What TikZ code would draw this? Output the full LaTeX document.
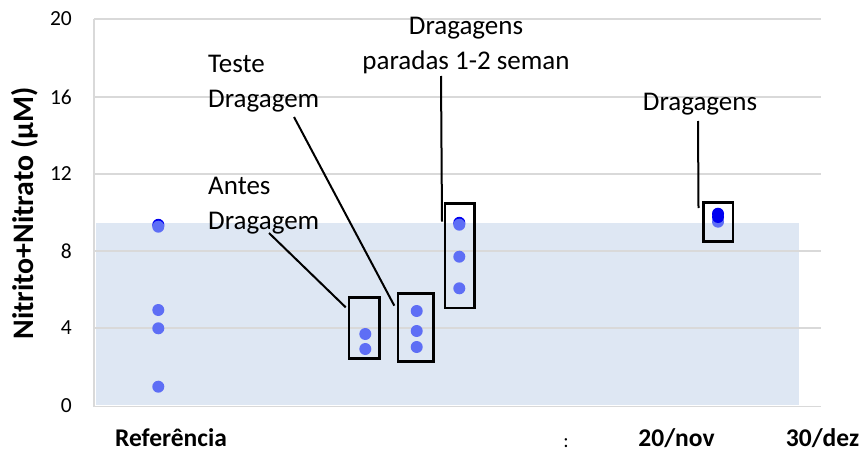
\documentclass[tikz,border=0pt]{standalone}
\usepackage{fontspec}
\setmainfont{Carlito}

\definecolor{corBanda}{RGB}{222,231,243}
\definecolor{corGrade}{RGB}{217,217,217}
\definecolor{corPonto}{RGB}{94,110,245}
\definecolor{corEscuro}{RGB}{0,0,240}

\begin{document}
\begin{tikzpicture}[x=1pt, y=-1pt]

% Set the overall size of the picture
\useasboundingbox (0,0) rectangle (861,452);

% Define styles for grid, dots, boxes and labels
\tikzstyle{grade} = [draw=corGrade, line width=1.2pt]
\tikzstyle{ponto} = [circle, fill=corPonto, minimum size=12pt, inner sep=0pt]
\tikzstyle{escuro} = [circle, fill=corEscuro, minimum size=12pt, inner sep=0pt]
\tikzstyle{caixa} = [rectangle, draw=black, line width=2.7pt, inner sep=0pt]
\tikzstyle{guia} = [draw=black, line width=2pt]

%Define textos: rótulos, escala e eixos
\tikzstyle{rotulo}=[align=left, inner sep=0pt, font=\fontsize{27}{35}\selectfont]
\tikzstyle{escala}=[anchor=east, inner sep=0pt, font=\fontsize{21.5}{26}\selectfont]
\tikzstyle{eixo}=[anchor=base, inner sep=0pt, font=\bfseries\fontsize{25.5}{30}\selectfont]

% Band and grid
\fill[corBanda] (96,223) rectangle (799,405);
\draw[grade] (94,19) -- (821,19);
\draw[grade] (94,97) -- (821,97);
\draw[grade] (94,174) -- (821,174);
\draw[grade] (94,251) -- (821,251);
\draw[grade] (94,328) -- (821,328);
\draw[grade] (94,406.5) -- (821,406.5);
\draw[grade] (94,19) -- (94,406.5);

% Scale and axis titles
\node[escala] (y20) at (72,19) {20};
\node[escala] (y16) at (72,97) {16};
\node[escala] (y12) at (72,174) {12};
\node[escala] (y8) at (72,251) {8};
\node[escala] (y4) at (72,328) {4};
\node[escala] (y0) at (72,406) {0};
\node[eixo, rotate=90, font=\bfseries\fontsize{29.8}{34}\selectfont] (titulo) at (33,213.5) {Nitrito+Nitrato (µM)};
\node[eixo] (referencia) at (171,446) {Referência};
\node[inner sep=0pt, font=\fontsize{20}{24}\selectfont] (marca) at (566,443) {:};
\node[eixo] (novembro) at (676.5,446) {20/nov};
\node[eixo] (dezembro) at (822.5,446) {30/dez};

% Boxes
\node[caixa, minimum width=30.5pt, minimum height=61.2pt] (caixa1) at (364.3,328) {};
\node[caixa, minimum width=35.2pt, minimum height=67.9pt] (caixa2) at (415.7,327.3) {};
\node[caixa, minimum width=29.2pt, minimum height=104.5pt] (caixa3) at (459.7,255.7) {};
\node[caixa, minimum width=29.2pt, minimum height=38.9pt] (caixa4) at (718.3,221.8) {};

% Dots
\node[escuro] (ref0) at (158.3,224.8) {};
\node[ponto] (ref1) at (158.3,226.7) {};
\node[ponto] (ref2) at (158.3,310) {};
\node[ponto] (ref3) at (158.3,328.3) {};
\node[ponto] (ref4) at (158.3,386.7) {};
\node[ponto] (antes1) at (365.3,334) {};
\node[ponto] (antes2) at (365.3,349) {};
\node[ponto] (teste1) at (416.7,311) {};
\node[ponto] (teste2) at (416.7,331) {};
\node[ponto] (teste3) at (416.7,347) {};
\node[escuro] (parada0) at (459.3,222.8) {};
\node[ponto] (parada1) at (459.3,224.7) {};
\node[ponto] (parada2) at (459.3,256.7) {};
\node[ponto] (parada3) at (459.3,288.3) {};
\node[ponto] (final1) at (718,221.7) {};
\node[escuro] (final2) at (718,217) {};
\node[escuro] (final3) at (718,213.7) {};

% Labels (base anchor sits on the last line)
\node[rotulo, anchor=base west] (teste) at (208,107.7) {Teste\\Dragagem};
\node[rotulo, anchor=base west] (antes) at (208,229.7) {Antes\\Dragagem};
\node[rotulo, align=center, anchor=base] (paradas) at (466,70) {Dragagens\\paradas 1-2 seman};
\node[rotulo, anchor=base] (dragagens) at (700,110) {Dragagens};

% Leader lines
\coordinate (antesTopo) at (269,233);
\coordinate (antesPe) at (345.7,307.3);
\coordinate (testeTopo) at (294,117);
\coordinate (testePe) at (394.3,305.7);
\coordinate (paradasTopo) at (441,76);
\coordinate (paradasPe) at (442,221.7);
\coordinate (dragagensTopo) at (698,121);
\coordinate (dragagensPe) at (698.5,208);
\draw[guia] (antesTopo) -- (antesPe);
\draw[guia] (testeTopo) -- (testePe);
\draw[guia] (paradasTopo) -- (paradasPe);
\draw[guia] (dragagensTopo) -- (dragagensPe);
\end{tikzpicture}
\end{document}
